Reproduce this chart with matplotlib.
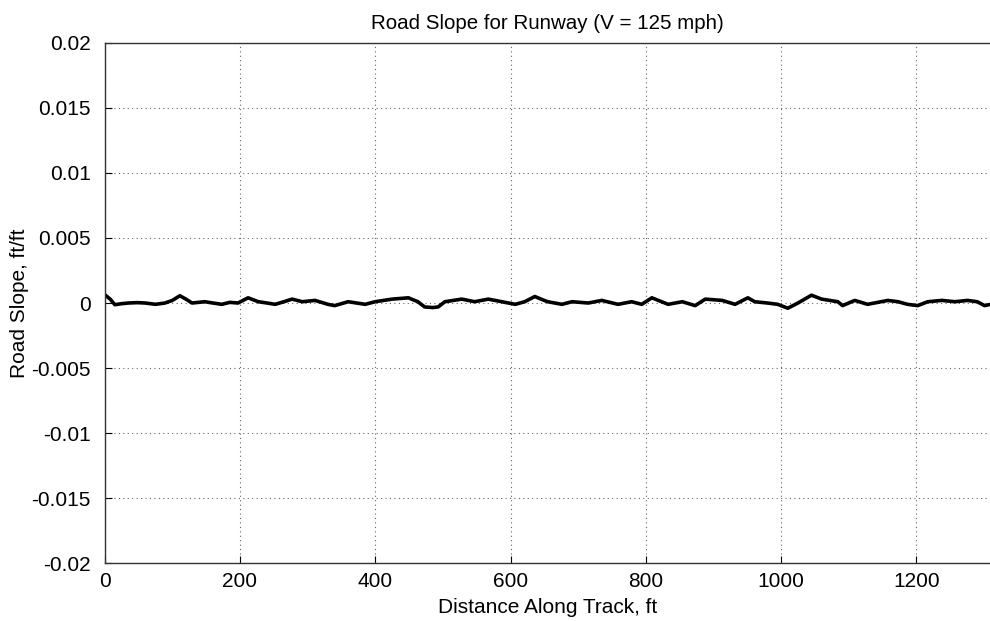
import matplotlib
matplotlib.use("Agg")
import matplotlib.pyplot as plt

distance = [0, 8, 15, 25, 35, 48, 60, 75, 89, 100, 111, 120, 129, 148, 160, 173, 185, 197,
            212, 227, 240, 252, 265, 277, 292, 311, 330, 340, 360, 385, 400, 425, 449,
            463, 473, 485, 493, 503, 528, 547, 567, 587, 607, 621, 636, 645, 655, 676,
            691, 715, 735, 759, 779, 794, 809, 833, 854, 873, 888, 913, 932, 951, 961,
            980, 995, 1010, 1025, 1045, 1060, 1084, 1091, 1109, 1128, 1158, 1173, 1187,
            1202, 1217, 1238, 1257, 1276, 1290, 1301, 1310]
slope = [0.00064, 0.0003, -0.00013, -0.00005, 0.0, 0.00003, 0.0, -0.0001, 0.0, 0.0002,
         0.00056, 0.0003, 0.0, 0.0001, 0.0, -0.0001, 0.00005, 0.0, 0.0004, 0.0001,
         0.0, -0.0001, 0.0001, 0.0003, 0.0001, 0.0002, -0.0001, -0.0002, 0.0001,
         -0.0001, 0.0001, 0.0003, 0.0004, 0.0001, -0.0003, -0.00035, -0.0003, 0.0001,
         0.0003, 0.0001, 0.0003, 0.0001, -0.0001, 0.0001, 0.0005, 0.0003, 0.0001,
         -0.0001, 0.0001, 0.0, 0.0002, -0.0001, 0.0001, -0.0001, 0.0004, -0.0001,
         0.0001, -0.0002, 0.0003, 0.0002, -0.0001, 0.0004, 0.0001, 0.0, -0.0001,
         -0.0004, 0.0, 0.0006, 0.0003, 0.0001, -0.0002, 0.0002, -0.0001, 0.0002,
         0.0001, -0.0001, -0.0002, 0.0001, 0.0002, 0.0001, 0.0002, 0.0001, -0.0002, -0.0001]

xticks = [0, 200, 400, 600, 800, 1000, 1200]
yticks = [-0.02, -0.015, -0.01, -0.005, 0, 0.005, 0.01, 0.015, 0.02]
ytick_labels = ["-0.02", "-0.015", "-0.01", "-0.005", "0", "0.005", "0.01", "0.015", "0.02"]

plt.rcParams['font.family'] = ['Liberation Sans', 'DejaVu Sans']
plt.rcParams['axes.unicode_minus'] = False

fig = plt.figure(figsize=(9.9, 6.21), dpi=100)
ax = fig.add_axes([0.1058, 0.0929, 1.0 - 0.1058, 0.9312 - 0.0929])
ax.plot(distance, slope, color='black', linewidth=2.6)
ax.set_xlim(0, 1309)
ax.set_ylim(-0.02, 0.02)
ax.set_xticks(xticks)
ax.set_xticklabels([str(v) for v in xticks])
ax.set_yticks(yticks)
ax.set_yticklabels(ytick_labels)
ax.tick_params(direction='in', length=5, labelsize=15, colors='black')
ax.tick_params(axis='x', pad=6)
ax.tick_params(axis='y', pad=10)
ax.grid(True, linestyle=(0, (1, 3)), color='#666666', linewidth=0.8)
for s in ['left', 'top', 'bottom']:
    ax.spines[s].set_color('#333333')
    ax.spines[s].set_linewidth(1.0)
ax.spines['right'].set_visible(False)
ax.set_title("Road Slope for Runway (V = 125 mph)", fontsize=14.8, pad=10)
ax.set_xlabel("Distance Along Track, ft", fontsize=15, labelpad=5)
ax.set_ylabel("Road Slope, ft/ft", fontsize=15, labelpad=2)
fig.savefig("out.png", dpi=100)
